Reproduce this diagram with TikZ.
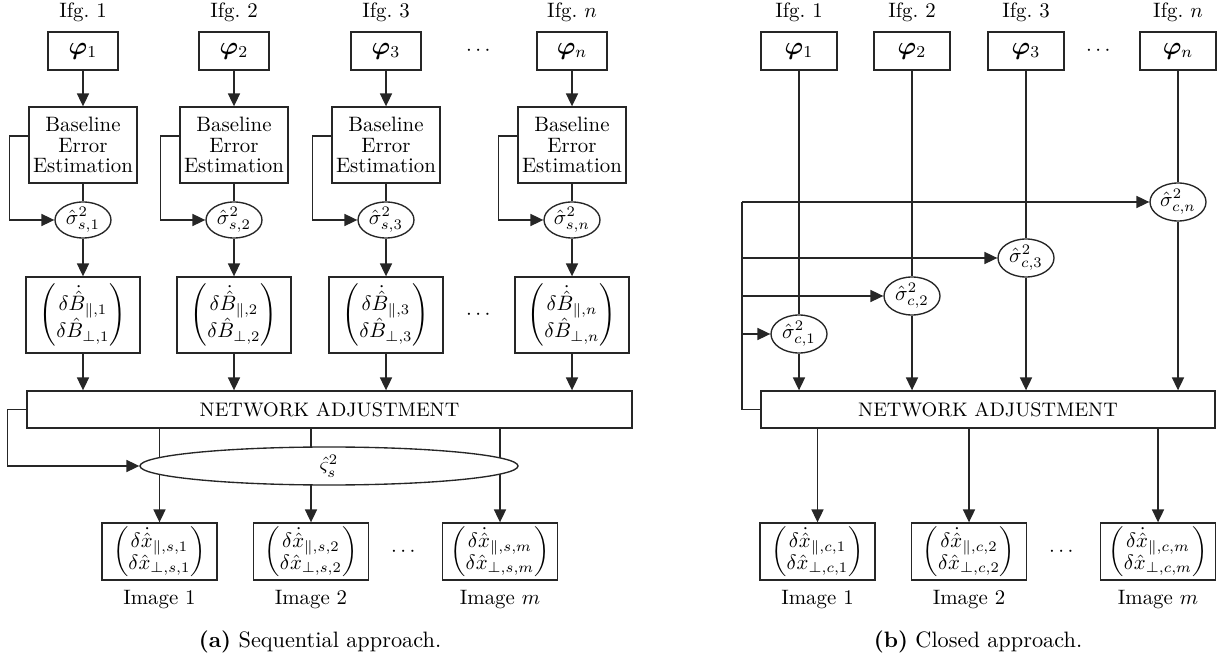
\documentclass[tikz,border=0pt]{standalone}
\usepackage{amsmath,bm}
\usetikzlibrary{arrows.meta,shapes.geometric,calc}

\newcommand{\Bvec}[1]{{\renewcommand\arraystretch{0.8}$\begin{pmatrix}\delta\dot{\hat B}_{\parallel,#1}\\ \delta\hat B_{\perp,#1}\end{pmatrix}$}}
\newcommand{\Xvec}[1]{{\renewcommand\arraystretch{0.68}$\begin{pmatrix}\delta\dot{\hat x}_{\parallel,#1}\\ \delta\hat x_{\perp,#1}\end{pmatrix}$}}

\tikzset{
  box/.style={draw, rectangle, inner sep=0pt, fill=white},
  ell/.style={draw, ellipse, inner sep=0pt, fill=white},
  wh/.style 2 args={minimum width=#1*0.48pt, minimum height=#2*0.48pt},
  arr/.style={-{Triangle[width=5.8pt,length=6.2pt]}},
  lab/.style={inner sep=0pt, anchor=base},
  phitext/.style={font=\fontsize{11.5}{13}\selectfont},
  natext/.style={font=\fontsize{9.4}{11}\selectfont},
  captext/.style={inner sep=0pt, font=\fontsize{10.7}{13}\selectfont},
}

\begin{document}
\begin{tikzpicture}[x=0.48pt, y=-0.48pt, line width=0.65pt, draw=black!85]
\useasboundingbox (0,0) rectangle (1228,660);

% ---------------- (a) sequential approach ----------------
\node[box, wh={605}{37}, natext] (naA) at (329.5,409.5) {NETWORK ADJUSTMENT};

\foreach \x/\i in {83/1, 234/2, 386/3, 572/n}{
  \node[lab] (ifgA\i) at (\x,18) {Ifg.~$\i$};
  \node[box, wh={70}{38}, phitext] (phiA\i) at (\x,51) {$\bm{\varphi}_{\i}$};
  \node[box, wh={108}{76}, align=center] (beA\i) at (\x,145)
    {Baseline\\[-2pt]Error\\[-2pt]Estimation};
  \node[ell, wh={56}{36}] (sgA\i) at (\x,220) {};
  \node at (sgA\i) {$\hat\sigma^2_{s,\i}$};
  \node[box, wh={114}{76}] (dbA\i) at (\x,315) {\Bvec{\i}};
  \draw[arr] (phiA\i) -- (beA\i);
  \draw (beA\i) -- (sgA\i);
  \draw[arr] ([yshift=4.3pt]beA\i.west) -- ++(-19,0) |- (sgA\i.west);
  \draw[arr] (sgA\i) -- (dbA\i);
  \draw[arr] (dbA\i) -- (dbA\i |- naA.north);
}
\node (dotsA1) at (480,51) {$\cdots$};
\node (dotsA2) at (480,315) {$\cdots$};

\foreach \x/\i in {159.5/1, 311/2, 500/m}{
  \node[box, wh={115}{57}] (xA\i) at (\x,551.5) {\Xvec{s,\i}};
  \node[lab] (imA\i) at (\x,604) {Image $\i$};
  \draw[arr] (xA\i |- naA.south) -- (xA\i);
}
\node (dotsA3) at (405,552) {$\cdots$};

\node[ell, wh={378}{38}] (zeta) at (329,466) {};
\node at (zeta) {$\hat\varsigma^2_s$};
\draw[arr] (naA.west) -- ++(-19,0) |- (zeta.west);

\node[captext] (capA) at (320,642) {\textbf{(a)} Sequential approach.};

% ---------------- (b) closed approach ----------------
\node[box, wh={454}{37}, natext] (naB) at (988,409.5) {NETWORK ADJUSTMENT};
\coordinate (bus) at (742,409.5);

\foreach \x/\i/\y in {799/1/334, 912/2/296, 1026/3/258, 1178/n/202}{
  \node[lab] (ifgB\i) at (\x,18) {Ifg.~$\i$};
  \node[box, wh={76}{38}, phitext] (phiB\i) at (\x,51) {$\bm{\varphi}_{\i}$};
  \node[ell, wh={56}{38}] (sgB\i) at (\x,\y) {};
  \node at (sgB\i) {$\hat\sigma^2_{c,\i}$};
  \draw (phiB\i) -- (sgB\i);
  \draw[arr] (sgB\i) -- (sgB\i |- naB.north);
  \draw[arr] (bus |- sgB\i) -- (sgB\i.west);
}
\draw (naB.west) -- (bus) -- (bus |- sgBn);
\node (dotsB1) at (1100,51) {$\cdots$};

\foreach \x/\i in {817.5/1, 969/2, 1158/m}{
  \node[box, wh={115}{57}] (xB\i) at (\x,551.5) {\Xvec{c,\i}};
  \node[lab] (imB\i) at (\x,604) {Image $\i$};
  \draw[arr] (xB\i |- naB.south) -- (xB\i);
}
\node (dotsB3) at (1063,552) {$\cdots$};

\node[captext] (capB) at (978,642) {\textbf{(b)} Closed approach.};
\end{tikzpicture}
\end{document}
